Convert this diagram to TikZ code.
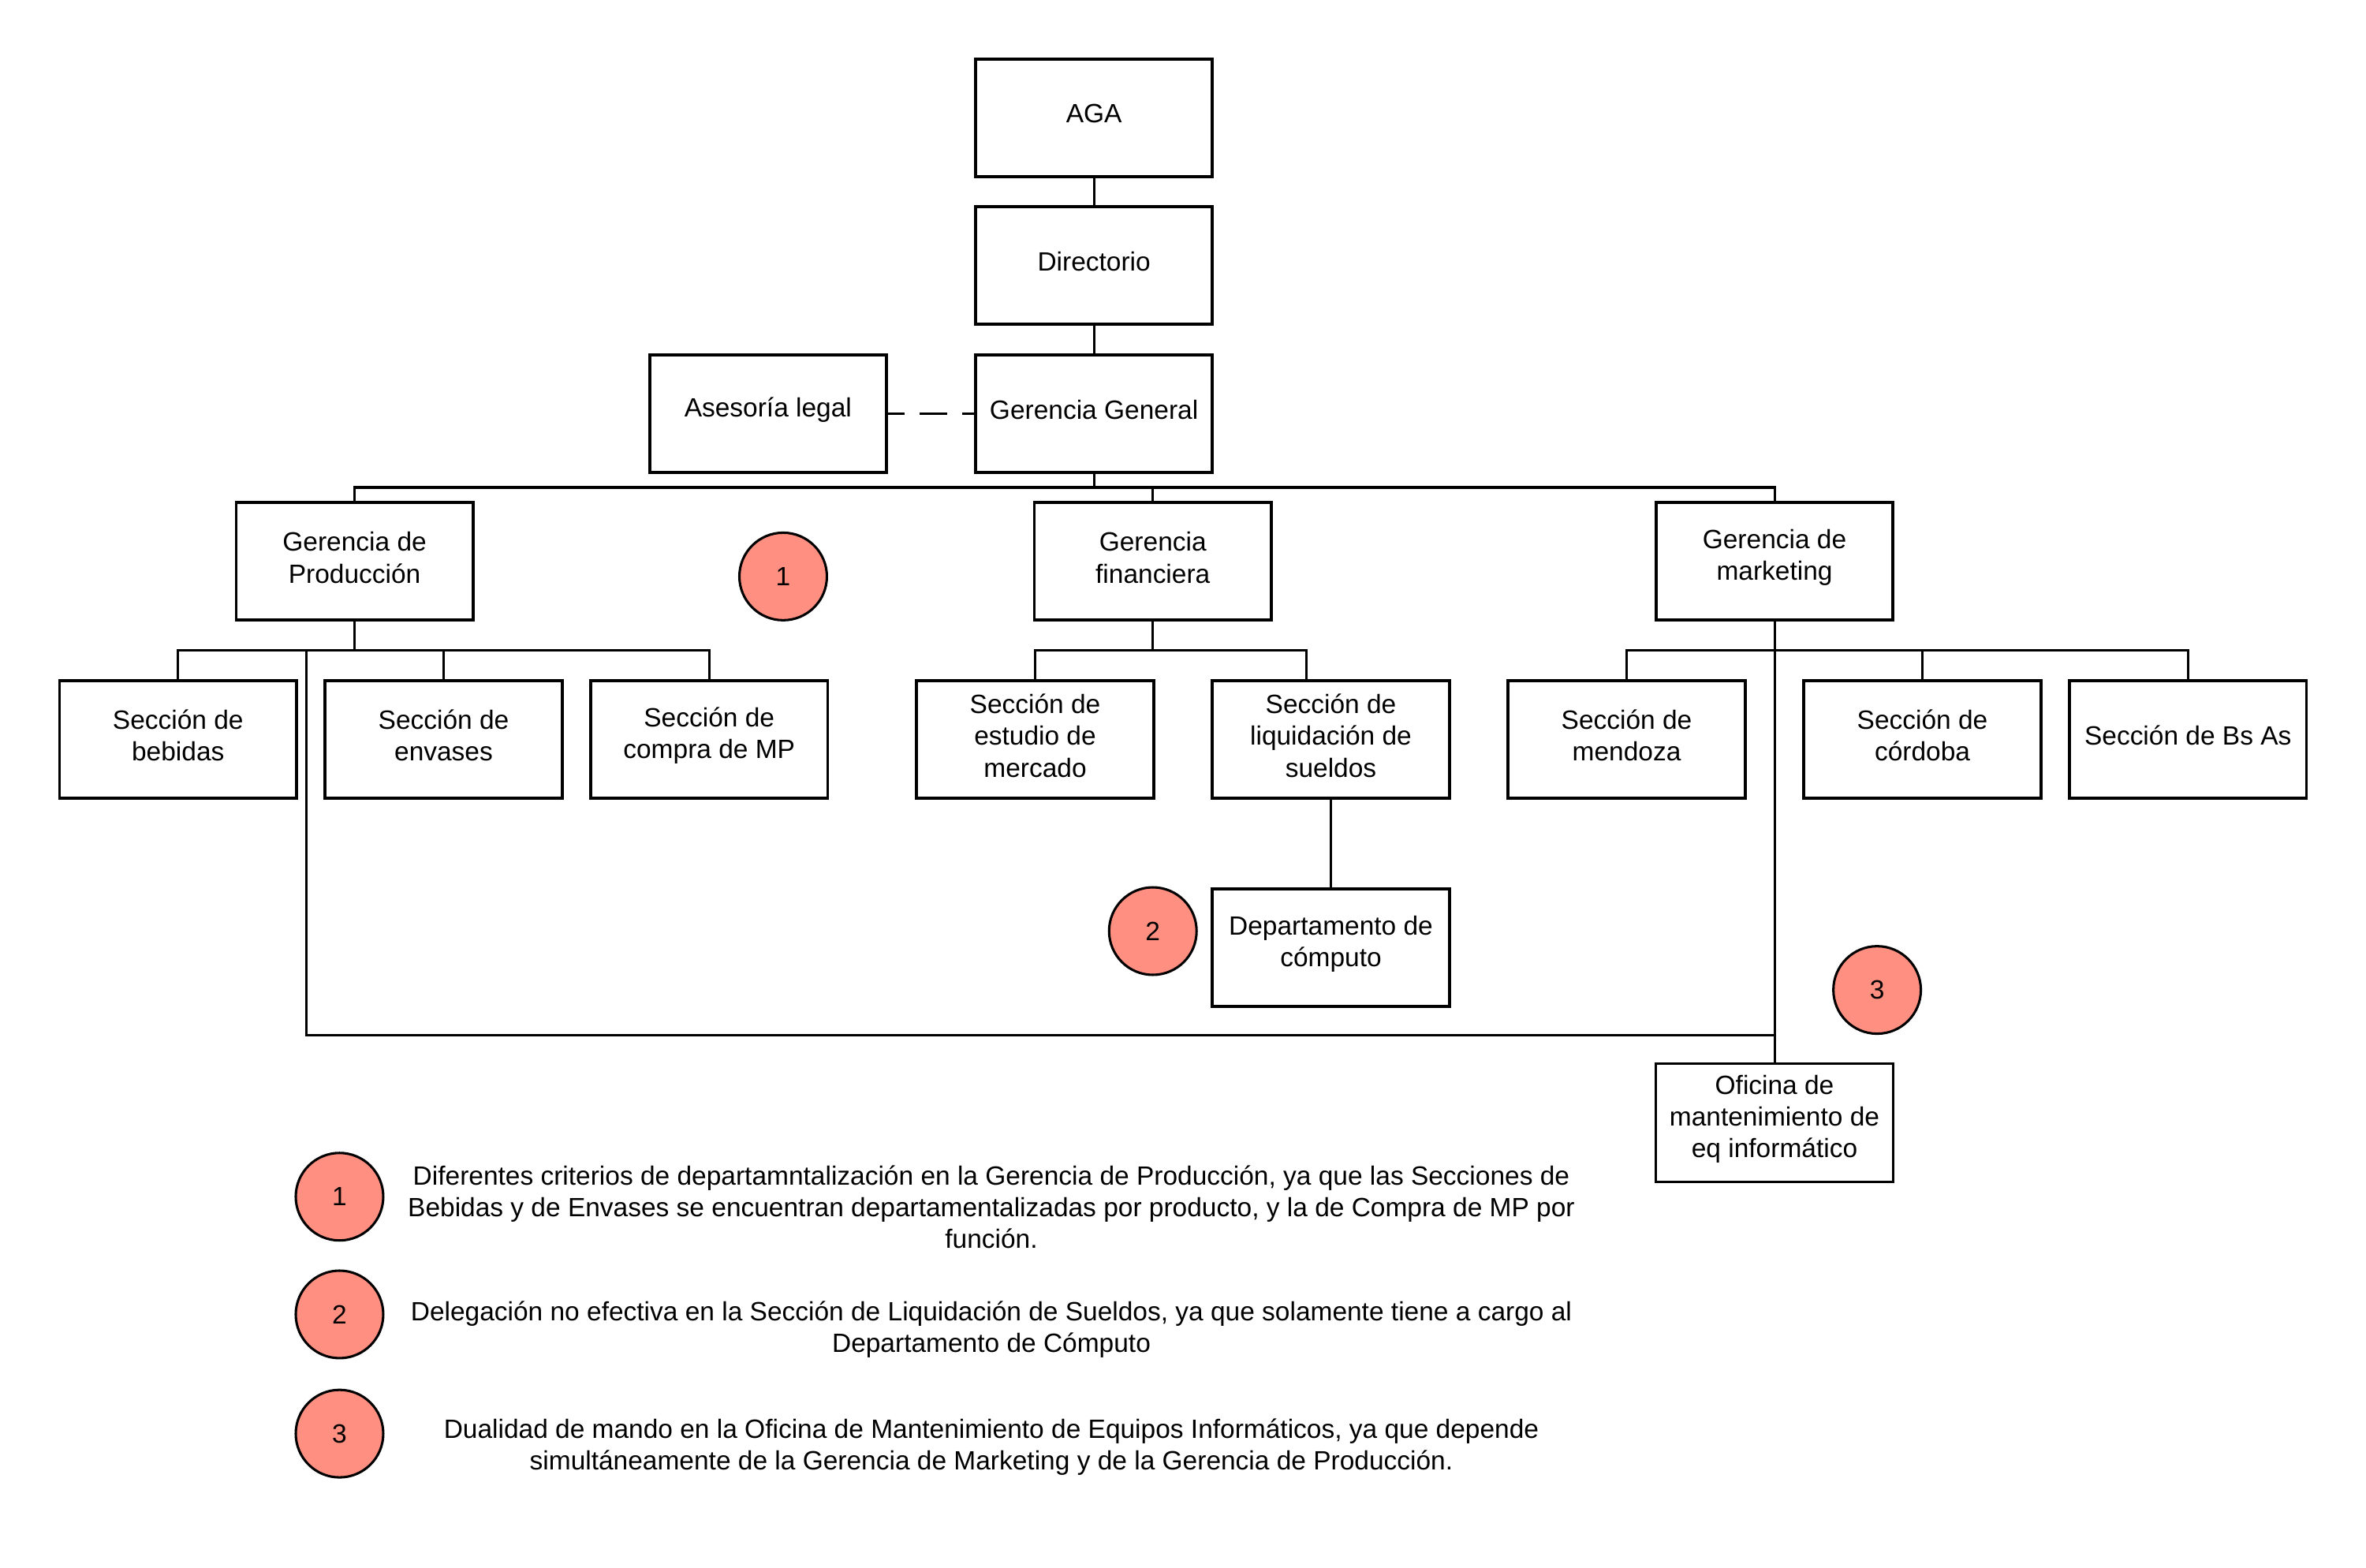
\documentclass[tikz,border=0pt]{standalone}
\usepackage{fontspec}
\setmainfont{Liberation Sans}
\definecolor{salmon}{HTML}{FF8F80}
\begin{document}
\begin{tikzpicture}[x=1pt,y=-1pt,
  every node/.style={font=\fontsize{17.5}{21}\selectfont},
  boxtext/.style={align=center,yshift=2.5pt,inner sep=0pt},
  box/.style={draw,line width=2pt,minimum width=157pt,minimum height=78pt,inner sep=0pt,
    label={[boxtext]center:#1}},
  badge/.style={draw,circle,fill=salmon,line width=1.6pt,minimum size=58pt,inner sep=0pt},
  link/.style={line width=1.6pt},
  note/.style={align=center}]
\useasboundingbox (0,0) rectangle (1568,1039);

% top of the hierarchy
\node[box={AGA}] (aga) at (725,78) {};
\node[box={Directorio}] (dir) at (725,176) {};
\node[box={Gerencia General}] (gg)  at (725,274) {};
\node[box={Asesoría legal}] (ase) at (509,274) {};

% managements
\node[box={Gerencia de\\Producción}] (gp) at (235,372) {};
\node[box={Gerencia\\financiera}] (gf) at (764,372) {};
\node[box={Gerencia de\\marketing}] (gm) at (1176,372) {};

% sections
\node[box={Sección de\\bebidas}] (sbe) at (118,490) {};
\node[box={Sección de\\envases}] (sen) at (294,490) {};
\node[box={Sección de\\compra de MP}] (scm) at (470,490) {};
\node[box={Sección de\\estudio de\\mercado}] (sem) at (686,490) {};
\node[box={Sección de\\liquidación de\\sueldos}] (sls) at (882,490) {};
\node[box={Sección de\\mendoza}] (smd) at (1078,490) {};
\node[box={Sección de\\córdoba}] (scb) at (1274,490) {};
\node[box={Sección de Bs As}] (sba) at (1450,490) {};

\node[box={Departamento de\\cómputo}] (dc) at (882,628) {};
\node[box={Oficina de\\mantenimiento de\\eq informático},line width=1.6pt] (of) at (1176,744) {};

% numbered badges on the chart
\node[badge] (b1) at (519,382) {1};
\node[badge] (b2) at (764,617) {2};
\node[badge] (b3) at (1244,656) {3};

% bus junctions
\coordinate (bus)  at (725,323);
\coordinate (pbus) at (235,431);
\coordinate (fbus) at (764,431);
\coordinate (mbus) at (1176,431);

% connectors
\draw[link] (aga.south) -- (dir.north);
\draw[link] (dir.south) -- (gg.north);
\draw[link,dash pattern=on 18pt off 10pt,dash phase=7pt] (ase.east) -- (gg.west);

\draw[link] (gg.south) -- (bus);
\draw[link] (gp.north) |- (bus) -| (gm.north);
\draw[link] (gf.north) -- (gf.north |- bus);

\draw[link] (gp.south) -- (pbus);
\draw[link] (sbe.north) |- (pbus) -| (scm.north);
\draw[link] (sen.north) -- (sen.north |- pbus);

\draw[link] (gf.south) -- (fbus);
\draw[link] (sem.north) |- (fbus) -| ([xshift=-16pt]sls.north);
\draw[link] (sls.south) -- (dc.north);

\draw[link] (gm.south) -- (of.north);
\draw[link] (smd.north) |- (mbus) -| (sba.north);
\draw[link] (scb.north) -- (scb.north |- mbus);

% second line of command to the maintenance office
\coordinate (pj) at (203,431);
\coordinate (mj) at (1176,686);
\draw[link] (pj) |- (mj);

% legend
\node[badge] (l1) at (225,793) {1};
\node[badge] (l2) at (225,871) {2};
\node[badge] (l3) at (225,950) {3};
\node[note] (t1) at (657,800) {Diferentes criterios de departamntalización en la Gerencia de Producción, ya que las Secciones de\\Bebidas y de Envases se encuentran departamentalizadas por producto, y la de Compra de MP por\\función.};
\node[note] (t2) at (657,881) {Delegación no efectiva en la Sección de Liquidación de Sueldos, ya que solamente tiene a cargo al\\Departamento de Cómputo};
\node[note] (t3) at (657,959) {Dualidad de mando en la Oficina de Mantenimiento de Equipos Informáticos, ya que depende\\simultáneamente de la Gerencia de Marketing y de la Gerencia de Producción.};
\end{tikzpicture}
\end{document}
